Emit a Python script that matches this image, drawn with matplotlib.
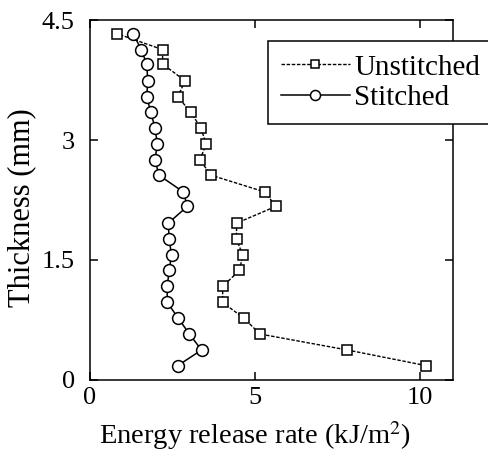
import matplotlib
matplotlib.use("Agg")
import matplotlib.pyplot as plt

# thickness positions (mm) shared by both series
thickness = [0.18, 0.375, 0.575, 0.77, 0.97, 1.17, 1.37, 1.56, 1.76, 1.96, 2.17,
             2.35, 2.56, 2.75, 2.95, 3.15, 3.35, 3.54, 3.74, 3.95, 4.13, 4.33]

# energy release rate (kJ/m^2)
unstitched = [10.18, 7.8, 5.15, 4.67, 4.02, 4.02, 4.53, 4.63, 4.44, 4.44, 5.63,
              5.3, 3.67, 3.33, 3.52, 3.36, 3.05, 2.66, 2.88, 2.2, 2.2, 0.81]
stitched = [2.66, 3.38, 3.01, 2.68, 2.34, 2.34, 2.4, 2.47, 2.4, 2.37, 2.95,
            2.83, 2.09, 1.97, 2.04, 1.97, 1.84, 1.72, 1.75, 1.72, 1.55, 1.31]

xticks = [0, 5, 10]
yticks = [0, 1.5, 3, 4.5]
ytick_labels = ["0", "1.5", "3", "4.5"]

plt.rcParams["font.family"] = ["Liberation Serif", "DejaVu Serif"]
plt.rcParams["mathtext.fontset"] = "stix"

fig = plt.figure(figsize=(4.88, 4.54), dpi=100)
ax = fig.add_axes([90 / 488, 74 / 454, 363 / 488, 360 / 454])

ax.plot(unstitched, thickness, color="black", linestyle=(0, (2.5, 1.2)), lw=1.0,
        marker="s", markersize=6.8, markerfacecolor="white",
        markeredgecolor="black", markeredgewidth=1.1, label="Unstitched")
ax.plot(stitched, thickness, color="black", linestyle="-", lw=1.1,
        marker="o", markersize=8.5, markerfacecolor="white",
        markeredgecolor="black", markeredgewidth=1.1, label="Stitched")

ax.set_xlim(0, 11)
ax.set_ylim(0, 4.5)
ax.set_xticks(xticks)
ax.set_yticks(yticks)
ax.set_yticklabels(ytick_labels)
ax.tick_params(direction="in", length=6, width=1.1, top=True, right=True,
               labelsize=19)
ax.tick_params(axis="x", pad=5)
ax.tick_params(axis="y", pad=11)
for s in ax.spines.values():
    s.set_linewidth(1.1)

ax.set_xlabel("Energy release rate (kJ/m$^2$)", fontsize=20.5)
ax.xaxis.set_label_coords(5 / 11, -0.11, transform=ax.transAxes)
ax.xaxis.label.set_va("top")
ax.set_ylabel("Thickness (mm)", fontsize=22)
ax.yaxis.set_label_coords(-0.147, 0.48, transform=ax.transAxes)

leg = ax.legend(loc="upper left", bbox_to_anchor=((268 - 90) / 363, (380 - 41) / 360),
                fontsize=21, frameon=True, fancybox=False, edgecolor="black",
                handlelength=2.35, markerscale=0.85, borderaxespad=0, borderpad=0.45,
                labelspacing=0.15, handletextpad=0.15)
leg.get_frame().set_linewidth(1.1)
leg.get_frame().set_alpha(1)

fig.savefig("out.png", dpi=100)
